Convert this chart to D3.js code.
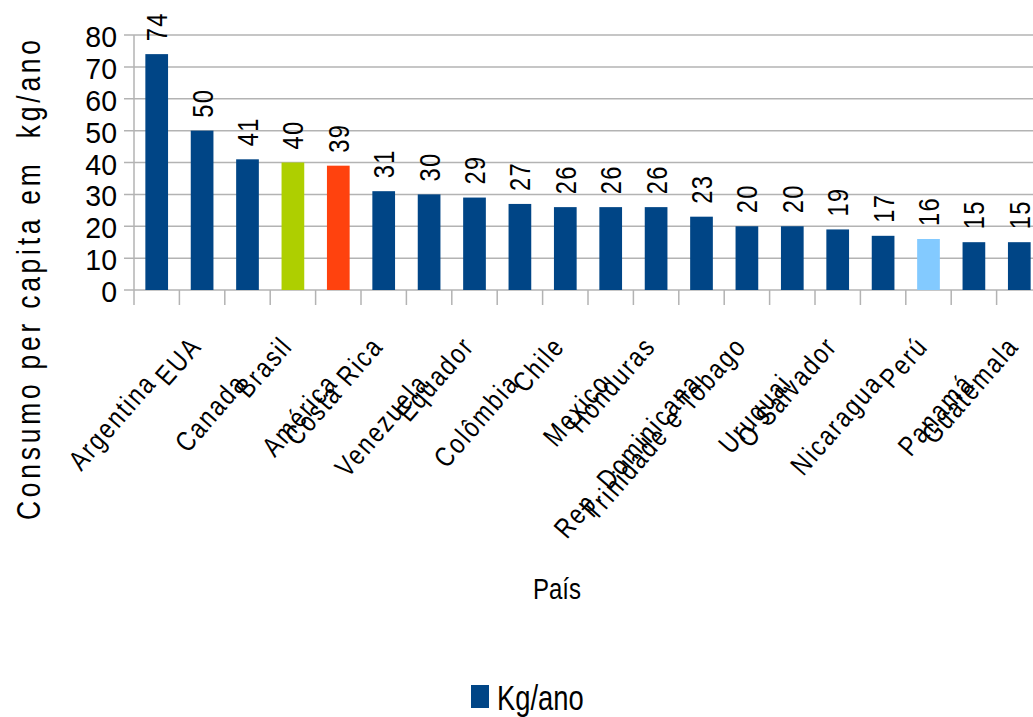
<!DOCTYPE html>
<html>
<head>
<meta charset="utf-8">
<script src="https://cdn.jsdelivr.net/npm/d3@7"></script>
<style>
  body { margin: 0; background: #fff; }
  svg { display: block; }
  text { fill: #000; font-family: "Liberation Sans", Arial, sans-serif; }
</style>
</head>
<body>
<svg id="canvas"></svg>
<script>
let width = 1033
let height = 717

// data
let countries = ['Argentina', 'EUA', 'Canada', 'Brasil', 'América', 'Costa Rica', 'Venezuela', 'Equador',
                 'Colômbia', 'Chile', 'Mexico', 'Honduras', 'Rep. Dominicana', 'Trinidade e Tobago',
                 'Uruguai', 'O Salvador', 'Nicaragua', 'Perú', 'Panamá', 'Guatemala']
let values = [74, 50, 41, 40, 39, 31, 30, 29, 27, 26, 26, 26, 23, 20, 20, 19, 17, 16, 15, 15]
let barColors = ['#004586', '#004586', '#004586', '#aecf00', '#ff420e', '#004586', '#004586', '#004586',
                 '#004586', '#004586', '#004586', '#004586', '#004586', '#004586', '#004586', '#004586',
                 '#004586', '#83caff', '#004586', '#004586']
let yTicks = [0, 10, 20, 30, 40, 50, 60, 70, 80]
let seriesName = 'Kg/ano'
let yTitle = 'Consumo per capita em  kg/ano'
let xTitle = 'País'

let plotLeft = 134, plotRight = 1042, plotTop = 35, plotBottom = 290
let grey = '#b3b3b3'
let narrow = 0.82   // the picture uses a condensed face, squeeze the regular one

let canvas = d3.select('#canvas')
canvas.attr('width', width)
      .attr('height', height)

let xScale = d3.scaleBand()
               .domain(countries)
               .range([plotLeft, plotRight])
               .paddingInner(0.5)
               .paddingOuter(0.25)

let yScale = d3.scaleLinear()
               .domain([0, 80])
               .range([plotBottom, plotTop])

/*grid lines*/
canvas.append('g')
  .selectAll('line')
  .data(yTicks)
  .enter()
  .append('line')
  .attr('x1', plotLeft - 10)
  .attr('x2', width)
  .attr('y1', (d) => yScale(d))
  .attr('y2', (d) => yScale(d))
  .attr('stroke', grey)
  .attr('stroke-width', 1.5)

/*y axis line and category ticks*/
canvas.append('line')
  .attr('x1', plotLeft).attr('x2', plotLeft)
  .attr('y1', plotTop).attr('y2', plotBottom + 15)
  .attr('stroke', grey).attr('stroke-width', 1.5)

let step = xScale.step()
canvas.append('g')
  .selectAll('line')
  .data(countries)
  .enter()
  .append('line')
  .attr('x1', (d) => xScale(d) - step * 0.25 + step)
  .attr('x2', (d) => xScale(d) - step * 0.25 + step)
  .attr('y1', plotBottom)
  .attr('y2', plotBottom + 15)
  .attr('stroke', grey)
  .attr('stroke-width', 1.5)

/*y tick labels*/
canvas.append('g')
  .selectAll('text')
  .data(yTicks)
  .enter()
  .append('text')
  .attr('transform', (d) => 'translate(117,' + (yScale(d) + 12) + ') scale(0.95,1)')
  .attr('text-anchor', 'end')
  .style('font-size', '30px')
  .text((d) => d)

/*bars*/
canvas.append('g')
  .selectAll('rect')
  .data(values)
  .enter()
  .append('rect')
  .attr('x', (d, i) => xScale(countries[i]))
  .attr('y', (d) => yScale(d))
  .attr('width', xScale.bandwidth())
  .attr('height', (d) => plotBottom - yScale(d))
  .attr('fill', (d, i) => barColors[i])

/*value labels*/
canvas.append('g')
  .selectAll('text')
  .data(values)
  .enter()
  .append('text')
  .attr('transform', (d, i) => {
    let cx = xScale(countries[i]) + xScale.bandwidth() / 2 + 10.5
    let cy = yScale(d) - 13
    return 'translate(' + cx + ',' + cy + ') rotate(-90) scale(' + narrow + ',1)'
  })
  .attr('text-anchor', 'start')
  .style('font-size', '29px')
  .style('letter-spacing', '1.5px')
  .text((d) => d)

/*category labels, staggered*/
canvas.append('g')
  .selectAll('text')
  .data(countries)
  .enter()
  .append('text')
  .attr('transform', (d, i) => {
    let cx = xScale(d) + xScale.bandwidth() / 2 + 1
    let cy = i % 2 === 0 ? 384 : 347
    return 'translate(' + cx + ',' + cy + ') rotate(-49) scale(' + narrow + ',1)'
  })
  .attr('text-anchor', 'end')
  .style('font-size', '28px')
  .style('letter-spacing', '2.5px')
  .text((d) => d)

/*axis titles*/
canvas.append('text')
  .attr('transform', 'translate(40,280) rotate(-90) scale(0.8,1)')
  .attr('text-anchor', 'middle')
  .attr('textLength', 600)
  .attr('lengthAdjust', 'spacing')
  .style('font-size', '33px')
  .style('white-space', 'pre')
  .text(yTitle)

canvas.append('text')
  .attr('transform', 'translate(557,599) scale(0.8,1)')
  .attr('text-anchor', 'middle')
  .style('font-size', '30px')
  .text(xTitle)

/*legend*/
let legend = canvas.append('g')
legend.append('rect')
  .attr('x', 471).attr('y', 685)
  .attr('width', 18).attr('height', 23)
  .attr('fill', '#004586')
legend.append('text')
  .attr('transform', 'translate(497,710) scale(0.76,1)')
  .style('font-size', '36px')
  .text(seriesName)
</script>
</body>
</html>
